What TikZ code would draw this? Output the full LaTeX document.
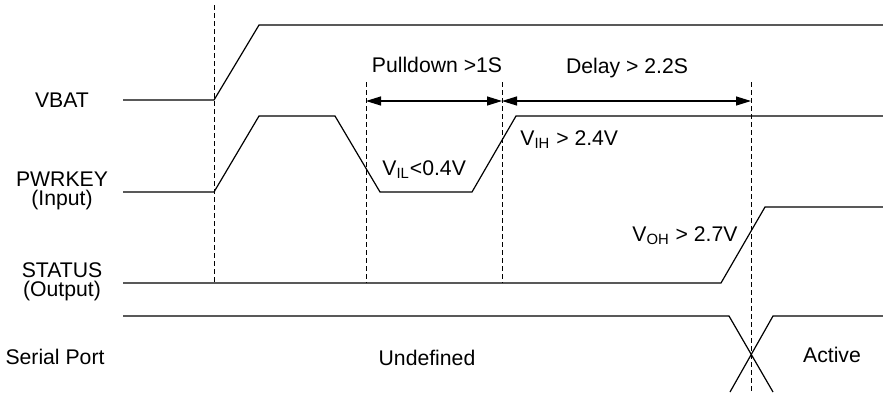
\documentclass[tikz,border=0pt]{standalone}
\usepackage{fontspec}
\setmainfont{Liberation Sans}
\usetikzlibrary{arrows.meta,positioning}

\begin{document}
\begin{tikzpicture}[
  x=0.5pt, y=-0.5pt,
  font=\fontsize{10.6}{9.6}\selectfont,
  wave/.style={line width=0.6pt, line join=miter},
  marker/.style={line width=0.5pt, dash pattern=on 2.5pt off 1.5pt},
  span/.style={{Triangle[length=7.5pt,width=4.5pt]}-{Triangle[length=7.5pt,width=4.5pt]},
               line width=0.6pt},
  sig/.style={align=center, inner sep=0pt},
  note/.style={inner sep=0pt}
]
\useasboundingbox (0,0) rectangle (883,392);

%% Signal names
\node[sig] (vbat)   at (62,100) {VBAT};
\node[sig] (pwrkey) at (62,191) {PWRKEY\\(Input)};
\node[sig] (status) at (62,282) {STATUS\\(Output)};
\node[sig] (serial) at (55,357) {Serial Port};

%% Time markers
\coordinate (t0) at (214,100);
\coordinate (t1) at (366,101);
\coordinate (t2) at (502,101);
\coordinate (t3) at (751,101);

\draw[marker] (214,5) -- (214,283);
\draw[marker] (366,82) -- (366,283);
\draw[marker] (502,82) -- (502,283);
\draw[marker] (751,82) -- (751,392);

%% Waveforms
\draw[wave] (123,100) -- (t0) -- (259,25) -- (883,25);
\draw[wave] (123,192) -- (214,192) -- (259,116) -- (335,116)
  -- (380,192) -- (472,192) -- (516,116) -- (883,116);
\draw[wave] (123,283) -- (721,283) -- (765,207) -- (883,207);
\draw[wave] (123,316) -- (729,316) -- (773,392);
\draw[wave] (730,392) -- (773,316) -- (883,316);

%% Timing spans
\draw[span] (t1) -- (t2);
\draw[span] (t2) -- (t3);
\node[note] (pull)  at (437,65) {Pulldown >1S};
\node[note, anchor=base] (delay) at (627,73) {Delay > 2.2S};

%% Levels
\node[note, anchor=base west] (vil) at (382,175) {V\textsubscript{IL}<0.4V};
\node[note, anchor=base west] (vih) at (520,145) {V\textsubscript{IH} > 2.4V};
\node[note, anchor=base west] (voh) at (632,241) {V\textsubscript{OH} > 2.7V};

%% Serial port states
\node[note, anchor=base] (undef)  at (427,365) {Undefined};
\node[note, anchor=base] (active) at (832,362) {Active};

\end{tikzpicture}
\end{document}
